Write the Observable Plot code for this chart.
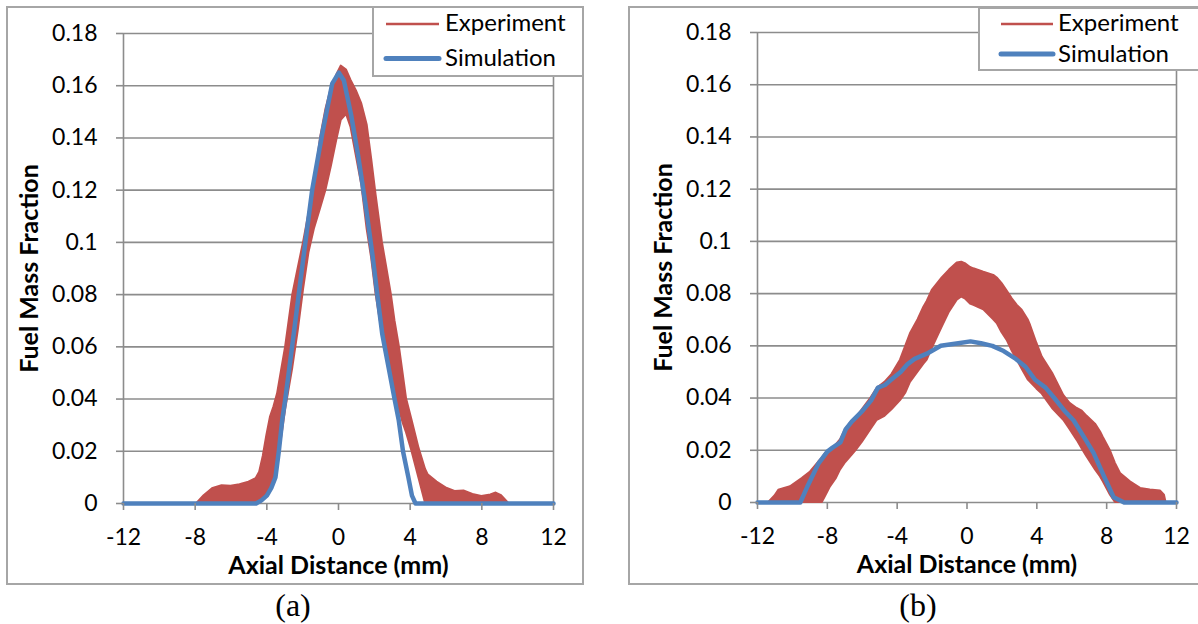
<!DOCTYPE html>
<html><head><meta charset="utf-8">
<script src="https://cdn.jsdelivr.net/npm/d3@7"></script>
<script src="https://cdn.jsdelivr.net/npm/@observablehq/plot@0.6"></script>
<style>
html,body{margin:0;padding:0;background:#fff;}
#page{position:relative;width:1198px;height:624px;overflow:hidden;background:#fff;font-family:Lato,"Open Sans",sans-serif;}
.panel{position:absolute;border:2px solid #a6a6a6;box-sizing:border-box;}
.chart{position:absolute;top:0;}
.chart svg{display:block;overflow:visible;}
.legend{position:absolute;background:#fff;border:2px solid #a6a6a6;box-sizing:border-box;}
#overlay{position:absolute;left:0;top:0;}
</style></head>
<body>
<div id="page">
  <div class="panel" style="left:6px;top:6px;width:578px;height:579px;"></div>
  <div class="panel" style="left:628px;top:6px;width:600px;height:579px;"></div>
  <div class="chart" id="chartA" style="left:0px;"></div>
  <div class="chart" id="chartB" style="left:620px;"></div>
  <div class="legend" style="left:372px;top:6px;width:212px;height:71px;"></div>
  <div class="legend" style="left:978px;top:7px;width:260px;height:64px;"></div>
  <svg id="overlay" width="1198" height="624"></svg>
</div>
<script>
const RED = "#C0504D", BLUE = "#4F81BD", GRID = "#8c8c8c";

const xTicks = [-12, -8, -4, 0, 4, 8, 12];
const yTicks = [0, 0.02, 0.04, 0.06, 0.08, 0.1, 0.12, 0.14, 0.16, 0.18];
const xTitle = "Axial Distance (mm)";
const yTitle = "Fuel Mass Fraction";
const seriesNames = ["Experiment", "Simulation"];
const captions = ["(a)", "(b)"];

// Panel (a) experiment band (upper / lower envelope of the measured curves)
const expA_x  = [-7.9,-7.5,-7.0,-6.5,-6.0,-5.5,-5.0,-4.6,-4.4,-4.2,-4.0,-3.8,-3.6,-3.4,-3.2,-2.95,-2.75,-2.55,-2.25,-1.95,-1.65,-1.35,-1.0,-0.7,-0.4,-0.1,0.15,0.45,0.7,1.0,1.3,1.6,1.85,2.1,2.45,2.7,2.95,3.15,3.4,3.6,3.8,4.1,4.5,4.86,5.0,5.5,6.0,6.5,7.0,7.5,8.0,8.5,8.8,9.1,9.5];
const expA_hi = [0,0.003,0.0058,0.0068,0.0066,0.0072,0.0082,0.0095,0.012,0.018,0.026,0.033,0.037,0.042,0.050,0.060,0.070,0.080,0.090,0.100,0.111,0.122,0.140,0.151,0.159,0.164,0.1675,0.166,0.162,0.158,0.153,0.145,0.132,0.118,0.100,0.090,0.080,0.070,0.060,0.050,0.040,0.032,0.021,0.013,0.011,0.0082,0.006,0.0046,0.0048,0.0035,0.0027,0.0033,0.004,0.003,0];
const expA_lo = [0,0,0,0,0,0,0,0,0,0.0012,0.0025,0.005,0.008,0.015,0.024,0.036,0.044,0.052,0.066,0.082,0.096,0.105,0.113,0.120,0.129,0.139,0.1467,0.149,0.144,0.133,0.122,0.105,0.094,0.080,0.065,0.056,0.048,0.042,0.036,0.031,0.027,0.020,0.0095,0,0,0,0,0,0,0,0,0,0,0,0];

// Panel (a) simulation
const simA_x = [-12,-4.6,-4.3,-4.0,-3.75,-3.52,-3.33,-3.14,-2.97,-2.59,-2.22,-1.85,-1.47,-0.91,-0.35,0.02,0.3,0.7,1.1,1.5,1.9,2.2,2.44,2.8,3.13,3.36,3.6,3.9,4.1,4.3,12];
const simA_v = [0,0,0.0012,0.003,0.006,0.010,0.020,0.032,0.040,0.060,0.080,0.100,0.120,0.1416,0.1608,0.165,0.162,0.149,0.133,0.115,0.095,0.078,0.065,0.052,0.040,0.032,0.020,0.010,0.003,0,0];

// Panel (b) experiment band
const expB_x  = [-11.35,-11.0,-10.78,-10.4,-10.11,-9.44,-8.96,-8.49,-8.29,-8.1,-7.82,-7.5,-7.25,-6.95,-6.6,-6.38,-6.0,-5.5,-5.14,-4.7,-4.3,-3.81,-3.5,-3.24,-2.8,-2.47,-2.28,-1.99,-1.42,-1.0,-0.56,-0.3,-0.1,0.2,0.39,0.96,1.53,1.73,2.01,2.3,2.59,2.88,3.16,3.5,3.64,4.0,4.31,4.9,5.54,5.9,6.31,6.6,6.88,7.36,7.65,7.8,8.22,8.5,8.79,9.36,9.94,10.5,11.08,11.31,11.4];
const expB_hi = [0,0.0025,0.0047,0.0055,0.006,0.0092,0.0117,0.0155,0.017,0.0187,0.020,0.022,0.024,0.028,0.031,0.032,0.0355,0.040,0.0437,0.046,0.049,0.0545,0.060,0.0646,0.070,0.0748,0.077,0.0812,0.086,0.089,0.0917,0.092,0.0915,0.090,0.0895,0.0882,0.087,0.086,0.0838,0.081,0.078,0.0755,0.0736,0.070,0.0678,0.061,0.0557,0.0495,0.041,0.038,0.036,0.035,0.033,0.030,0.027,0.025,0.0197,0.015,0.0111,0.0079,0.0054,0.0048,0.0044,0.0028,0];
const expB_lo = [0,0,0,0,0,0,0,0,0,0.0024,0.006,0.009,0.0124,0.0153,0.018,0.0197,0.023,0.028,0.0315,0.033,0.0355,0.039,0.042,0.046,0.050,0.053,0.0545,0.059,0.0672,0.073,0.0775,0.0787,0.078,0.076,0.0755,0.0738,0.070,0.0685,0.065,0.0621,0.058,0.0545,0.051,0.047,0.046,0.0435,0.0415,0.036,0.0315,0.028,0.0238,0.0205,0.0174,0.0125,0.0098,0.008,0.0028,0,0,0,0,0,0,0,0];

// Panel (b) simulation
const simB_x = [-12,-9.55,-9.15,-8.5,-8.0,-7.7,-7.25,-6.95,-6.6,-6.0,-5.5,-5.1,-4.7,-4.35,-3.8,-3.4,-3.0,-2.3,-1.5,-0.5,0.2,0.8,1.45,2.1,2.8,3.35,3.9,4.5,5.0,5.6,6.1,6.8,7.25,7.85,8.4,9.0,12];
const simB_v = [0,0,0.006,0.015,0.0195,0.021,0.023,0.028,0.031,0.035,0.039,0.044,0.045,0.047,0.050,0.053,0.055,0.057,0.060,0.061,0.0617,0.061,0.060,0.058,0.055,0.052,0.047,0.044,0.040,0.035,0.0315,0.024,0.019,0.010,0.002,0,0];

const band = (xs, hi, lo) => xs.map((x, i) => ({x, hi: hi[i], lo: lo[i]}));
const curve = (xs, vs) => xs.map((x, i) => ({x, v: vs[i]}));

function panel({width, marginLeft, marginRight, marginTop, marginBottom, exp, sim}) {
  return Plot.plot({
    width, height: 600, marginLeft, marginRight, marginTop, marginBottom,
    x: {domain: [-12, 12]},
    y: {domain: [0, 0.18]},
    style: {fontFamily: "Lato, 'Open Sans', sans-serif", fontSize: "23px", color: "#000", background: "transparent", overflow: "visible"},
    marks: [
      Plot.ruleY(yTicks, {stroke: GRID, strokeWidth: 1.6}),
      Plot.ruleX([-12, 12], {stroke: GRID, strokeWidth: 1.6}),
      Plot.areaY(exp, {x: "x", y1: "lo", y2: "hi", fill: RED, stroke: RED, strokeWidth: 2, strokeLinejoin: "round"}),
      Plot.line(sim, {x: "x", y: "v", stroke: BLUE, strokeWidth: 4.5, strokeLinejoin: "round", strokeLinecap: "round"}),
      Plot.axisX({ticks: xTicks, tickSize: 7, tickPadding: 18, tickFormat: d => String(d), stroke: GRID, strokeWidth: 1.6, fill: "#000", label: null}),
      Plot.axisY({ticks: yTicks, tickSize: 7, tickPadding: 19, tickFormat: d => String(d), stroke: GRID, strokeWidth: 1.6, fill: "#000", label: null}),
      Plot.text([xTitle], {frameAnchor: "bottom", lineAnchor: "middle", textAnchor: "middle", dy: 62, fontWeight: "bold", fontSize: 25, fill: "#000"}),
      Plot.text([yTitle], {frameAnchor: "left", lineAnchor: "middle", textAnchor: "middle", dx: -94, rotate: -90, fontWeight: "bold", fontSize: 25, fill: "#000"})
    ]
  });
}

document.getElementById("chartA").appendChild(panel({width: 600, marginLeft: 123, marginRight: 47, marginTop: 33, marginBottom: 97, exp: band(expA_x, expA_hi, expA_lo), sim: curve(simA_x, simA_v)}));
document.getElementById("chartB").appendChild(panel({width: 578, marginLeft: 137, marginRight: 22, marginTop: 32, marginBottom: 98, exp: band(expB_x, expB_hi, expB_lo), sim: curve(simB_x, simB_v)}));

// legends and captions
const ov = d3.select("#overlay");
const legends = [{x0: 386, x1: 439, tx: 445, y: [24, 58.5], base: [31, 66]}, {x0: 1001, x1: 1053, tx: 1058, y: [24, 54], base: [31, 61.5]}];
legends.forEach(L => {
  ov.append("line").attr("x1", L.x0).attr("x2", L.x1).attr("y1", L.y[0]).attr("y2", L.y[0]).attr("stroke", RED).attr("stroke-width", 2.5);
  ov.append("line").attr("x1", L.x0).attr("x2", L.x1).attr("y1", L.y[1]).attr("y2", L.y[1]).attr("stroke", BLUE).attr("stroke-width", 5).attr("stroke-linecap", "round");
  seriesNames.forEach((s, i) => ov.append("text").attr("x", L.tx).attr("y", L.base[i]).attr("font-family", "Lato, 'Open Sans', sans-serif").attr("font-size", 24).attr("fill", "#000").text(s));
});
[[293, captions[0]], [918, captions[1]]].forEach(([cx, t]) =>
  ov.append("text").attr("x", cx).attr("y", 616).attr("text-anchor", "middle").attr("font-family", "'Liberation Serif', 'DejaVu Serif', serif").attr("font-size", 32).attr("fill", "#000").text(t));
</script>
</body></html>
